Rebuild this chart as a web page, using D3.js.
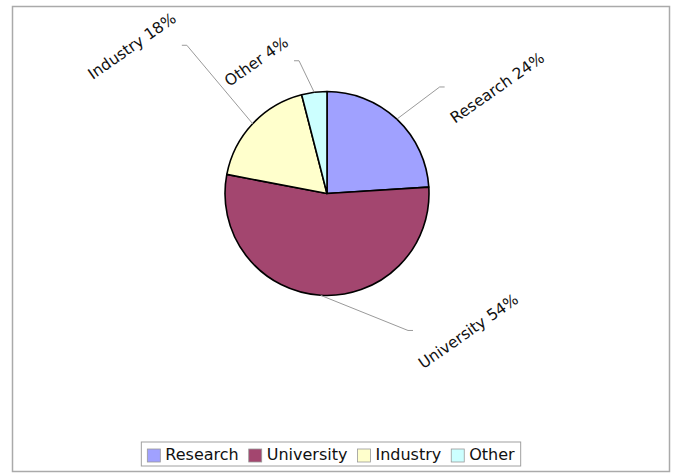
<!DOCTYPE html>
<meta charset="utf-8">
<script src="https://d3js.org/d3.v7.min.js"></script>
<head>
  <style>
    body { margin: 0; background: #fff; font-family: "DejaVu Sans", Verdana, sans-serif; }
  </style>
</head>
<html><body>
<div id="viz"></div>
<script>

// data
const categories = ["Research", "University", "Industry", "Other"];
const shares = [24, 54, 18, 4];
const colors = ["#a0a1ff", "#a3466f", "#ffffcc", "#ccffff"];

const width = 676, height = 473;
const cx = 327, cy = 193.5, radius = 102;

// leader elbow for each label: angle in degrees (clockwise from top) and distance in pie radii
const elbows = [[46.6, 1.52], [149.4, 1.56], [316.6, 2.0], [348.1, 1.33]];

const svg = d3.select("#viz")
  .append("svg")
    .attr("width", width)
    .attr("height", height);

// outer frame
svg.append("rect")
  .attr("x", 12.5).attr("y", 6.5)
  .attr("width", 657).attr("height", 465)
  .attr("fill", "none")
  .attr("stroke", "#aaaaaa")
  .attr("stroke-width", 1.5);

const data = categories.map((c, i) => ({ name: c, value: shares[i], color: colors[i] }));

const pie = d3.pie().sort(null).value(d => d.value);
const arc = d3.arc().innerRadius(0).outerRadius(radius);
const arcs = pie(data);

const g = svg.append("g").attr("transform", `translate(${cx},${cy})`);

g.selectAll("path.slice")
  .data(arcs)
  .join("path")
    .attr("class", "slice")
    .attr("d", arc)
    .attr("fill", d => d.data.color)
    .attr("stroke", "#000")
    .attr("stroke-width", 1.6)
    .attr("stroke-linejoin", "round");

// labels with leader lines
const polar = (a, r) => [r * Math.sin(a), -r * Math.cos(a)];
const rot = -35, rad = rot * Math.PI / 180;

arcs.forEach((d, i) => {
  const mid = (d.startAngle + d.endAngle) / 2;
  const edge = polar(mid, radius);
  const el = polar(elbows[i][0] * Math.PI / 180, elbows[i][1] * radius);
  const right = el[0] > 0;
  const tick = [el[0] + (right ? 5 : -5), el[1]];

  g.append("path")
    .attr("d", d3.line()([edge, el, tick]))
    .attr("fill", "none")
    .attr("stroke", "#9a9a9a")
    .attr("stroke-width", 1);

  const t = g.append("text")
    .attr("text-anchor", "middle")
    .attr("dominant-baseline", "central")
    .attr("font-size", "15.5px")
    .attr("fill", "#111")
    .text(`${d.data.name} ${d.data.value}%`);

  const len = t.node().getComputedTextLength();
  const h = 15.5;
  const half = (len * Math.cos(rad) + h * Math.abs(Math.sin(rad))) / 2;
  const x = tick[0] + (right ? half + 3 : -half - 3);
  t.attr("transform", `translate(${x},${tick[1] + 1}) rotate(${rot})`);
});

// legend
const legend = svg.append("g");
const items = legend.selectAll("g")
  .data(data)
  .join("g");

items.append("rect")
  .attr("width", 13).attr("height", 13)
  .attr("y", -11)
  .attr("fill", d => d.color)
  .attr("stroke", "#9a9a9a")
  .attr("stroke-width", 0.8);

items.append("text")
  .attr("x", 18)
  .attr("font-size", "16px")
  .attr("fill", "#111")
  .text(d => d.name);

let xpos = 0;
items.each(function() {
  const w = d3.select(this).select("text").node().getComputedTextLength();
  d3.select(this).attr("transform", `translate(${xpos},0)`);
  xpos += 18 + w + 10;
});
const legendW = xpos - 10 + 12;
const lx = 331 - legendW / 2;

legend.insert("rect", ":first-child")
  .attr("x", -6).attr("y", -18)
  .attr("width", legendW).attr("height", 24)
  .attr("fill", "#fff")
  .attr("stroke", "#a0a0a0")
  .attr("stroke-width", 1);

legend.attr("transform", `translate(${lx + 6},460)`);

</script>
</body></html>
